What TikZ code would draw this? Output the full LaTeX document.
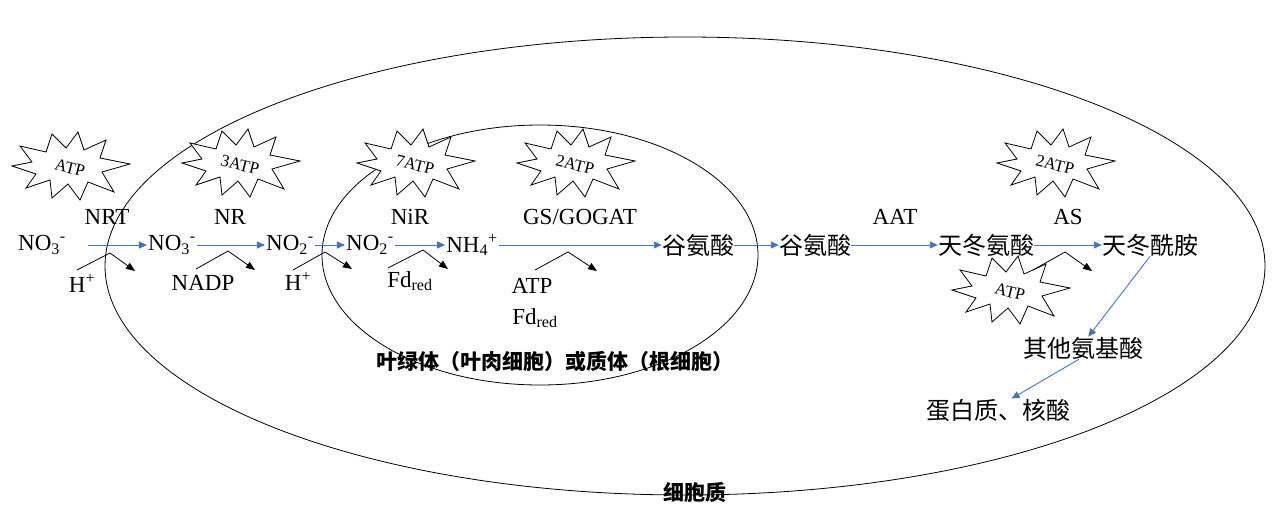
\documentclass[tikz,border=0pt]{standalone}
\usepackage{fontspec}
\setmainfont{Liberation Serif}
\newfontfamily\cjk{Noto Sans CJK SC}
\usetikzlibrary{arrows.meta}
\definecolor{ablue}{RGB}{68,114,196}
\newcommand{\subx}[1]{\textsubscript{#1}}
\newcommand{\supx}[1]{\textsuperscript{#1}}
\begin{document}
\begin{tikzpicture}[x=1pt,y=-1pt,
 every node/.style={inner sep=1pt,font=\fontsize{23}{25}\selectfont},
 flow/.style={ablue,line width=0.9pt,-{Triangle[length=8pt,width=7pt]}},
 side/.style={black,line width=0.8pt,-{Triangle[length=9pt,width=7pt]}},
 cn/.style={inner sep=0pt,font=\fontsize{24}{26}\selectfont\cjk},
 burst/.pic={\draw[line width=0.8pt,fill=white] (-58,-2)--(-38,-6)--(-50,-22)--(-24,-16)--(-18,-34)--(-4,-20)--(8,-36)--(14,-18)--(36,-28)--(30,-10)--(60,-4)--(32,4)--(44,24)--(18,14)--(10,32)--(-2,16)--(-18,30)--(-20,12)--(-44,20)--(-34,6)--cycle;
   \node[font=\fontsize{17}{19}\selectfont,rotate=-14] at (0,0) {#1};}]
\useasboundingbox (0,0) rectangle (1283,509);
\draw[line width=0.8pt] (685,266) ellipse [x radius=580,y radius=229];
\draw[line width=0.8pt] (540,255) ellipse [x radius=218,y radius=130];

\pic at (70,168) {burst=ATP};
\pic at (240,165) {burst=3ATP};
\pic at (415,165) {burst=7ATP};
\pic at (575,165) {burst=2ATP};
\pic at (1055,165) {burst=2ATP};

% main row
\node (n1) at (42,245) {NO\subx{3}\supx{-}};
\node (n2) at (172,245) {NO\subx{3}\supx{-}};
\node (n3) at (290,245) {NO\subx{2}\supx{-}};
\node (n4) at (370,245) {NO\subx{2}\supx{-}};
\node (n5) at (472,245) {NH\subx{4}\supx{+}};
\node[cn] (g1) at (698,245) {谷氨酸};
\node[cn] (g2) at (815,245) {谷氨酸};
\node[cn] (d1) at (986,245) {天冬氨酸};
\node[cn] (d2) at (1150,245) {天冬酰胺};
\node[cn] (qt) at (1083,348) {其他氨基酸};
\node[cn] (dp) at (998,410) {蛋白质、核酸};
\coordinate (s0) at (88,245);

\draw[flow] (s0) -- (n2.west);
\draw[flow] (n2.east) -- (n3.west);
\draw[flow] (n3.east) -- (n4.west);
\draw[flow] (n4.east) -- (n5.west);
\draw[flow] (n5.east) -- (g1.west);
\draw[flow] (g1.east) -- (g2.west);
\draw[flow] (g2.east) -- (d1.west);
\draw[flow] (d1.east) -- (d2.west);
\draw[flow] (d2.south) -- (qt.65);
\draw[flow] (qt.-110) -- (dp.40);

% enzymes
\node at (107,217) {NRT};
\node at (230,217) {NR};
\node at (410,217) {NiR};
\node at (580,217) {GS/GOGAT};
\node at (895,217) {AAT};
\node at (1068,217) {AS};

% side reactions
\node (h1) at (82,283) {H\supx{+}};
\node (na) at (203,283) {NADP};
\node (h2) at (298,281) {H\supx{+}};
\node (f1) at (410,281) {Fd\subx{red}};
\node (at) at (532,286) {ATP};
\node (f2) at (535,318) {Fd\subx{red}};
\pic at (1010,292) {burst=ATP};

\draw[side] (77,270) -- (110,253) -- (135,271);
\draw[side] (196,269) -- (228,251) -- (255,270);
\draw[side] (293,270) -- (325,252) -- (352,269);
\draw[side] (388,268) -- (423,250) -- (448,269);
\draw[side] (535,270) -- (568,252) -- (597,271);
\draw[side] (1033,270) -- (1065,252) -- (1092,271);

\node[font=\fontsize{21}{23}\selectfont\cjk\bfseries] at (555,362) {叶绿体（叶肉细胞）或质体（根细胞）};
\node[font=\fontsize{21}{23}\selectfont\cjk\bfseries] at (695,492) {细胞质};
\end{tikzpicture}
\end{document}
